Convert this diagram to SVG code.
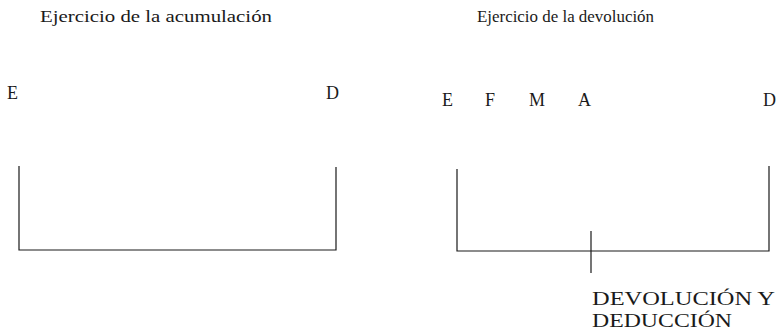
<svg xmlns="http://www.w3.org/2000/svg" width="778" height="332" viewBox="0 0 778 332">
  <style>
    text { font-family: "Liberation Serif", "Times New Roman", serif; fill: #1a1a1a; }
    .title { font-size: 17px; }
    .mark { font-size: 18px; }
    .caps { font-size: 19px; }
    .axis { stroke: #1a1a1a; stroke-width: 1.2; fill: none; }
  </style>
  <rect width="778" height="332" fill="#ffffff"/>

  <!-- left panel: accumulation year -->
  <g id="acumulacion">
    <text class="title" x="40" y="22" textLength="232" lengthAdjust="spacingAndGlyphs">Ejercicio de la acumulación</text>
    <text class="mark" x="7" y="99">E</text>
    <text class="mark" x="326" y="99">D</text>
    <path class="axis" d="M19,166 V250 H336 V167"/>
  </g>

  <!-- right panel: refund year -->
  <g id="devolucion">
    <text class="title" x="477" y="22" textLength="177" lengthAdjust="spacingAndGlyphs">Ejercicio de la devolución</text>
    <text class="mark" x="442" y="106">E</text>
    <text class="mark" x="485" y="106">F</text>
    <text class="mark" x="529" y="106">M</text>
    <text class="mark" x="578" y="106">A</text>
    <text class="mark" x="763" y="106">D</text>
    <path class="axis" d="M457,169 V251 H769 V166"/>
  </g>

  <!-- marker for the refund and deduction point -->
  <g id="connectors">
    <line class="axis" x1="591" y1="231" x2="591" y2="273"/>
  </g>

  <g id="devolucion-deduccion">
    <text class="caps" x="592" y="305" textLength="183" lengthAdjust="spacingAndGlyphs">DEVOLUCIÓN Y</text>
    <text class="caps" x="592" y="327" textLength="140" lengthAdjust="spacingAndGlyphs">DEDUCCIÓN</text>
  </g>
</svg>
